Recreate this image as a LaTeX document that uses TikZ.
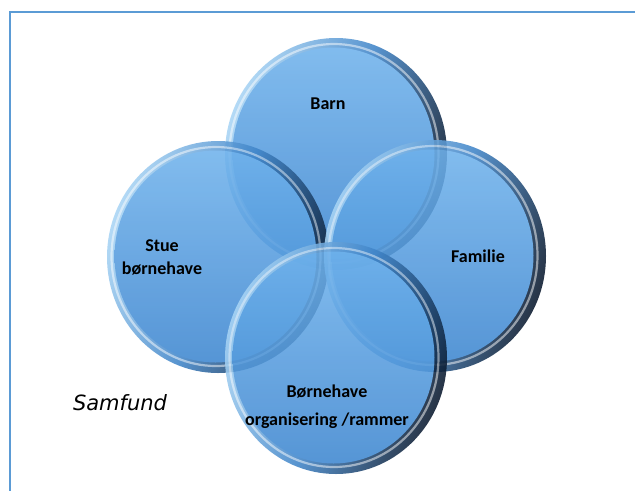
\documentclass[tikz,border=0pt]{standalone}
\usepackage{fontspec}
\setmainfont{Carlito}
\newfontfamily\samfont{DejaVu Sans}
\definecolor{frameblue}{HTML}{5B9BD5}
\definecolor{rimlight}{HTML}{A9D5F5}
\definecolor{rimmid}{HTML}{3F84C8}
\definecolor{rimdark}{HTML}{08162A}
\definecolor{bodytop}{HTML}{6FB2EC}
\definecolor{bodybot}{HTML}{3D86D0}
\tikzset{
  frame/.style={draw=frameblue, line width=2pt},
  rim/.style={top color=rimlight, bottom color=rimdark, middle color=rimmid, shading angle=70},
  body/.style={top color=bodytop, bottom color=bodybot},
  gloss/.style={draw=white, draw opacity=0.5, line width=2.2pt},
  lbl/.style={font=\fontsize{18}{23}\selectfont\bfseries, text=black, align=center, inner sep=0pt},
}
\newcommand\drawbubble[1]{%
  \begin{scope}[shift={(#1)}, transparency group, opacity=0.87]
    \shade[rim] (0,0) ellipse (111 and 116);
    \shade[body] (-2.5,0.5) ellipse (101 and 106);
    \draw[gloss] (-2,0.5) ellipse (104.5 and 109.5);
  \end{scope}}
\begin{document}
\begin{tikzpicture}[x=1pt,y=1pt]
  \useasboundingbox (0,0) rectangle (635,-491);
  \fill[white] (0,0) rectangle (635,-491);
  \coordinate (fa) at (635,-11.5);
  \coordinate (fb) at (10,-11.5);
  \coordinate (fc) at (10,-491);
  \draw[frame] (fa) -- (fb) -- (fc);

  \coordinate (cbarn) at (336,-154);
  \coordinate (cstue) at (218,-257);
  \coordinate (cfam) at (435,-256);
  \coordinate (cbh) at (336,-358);

  \drawbubble{cbarn}
  \drawbubble{cstue}
  \drawbubble{cfam}
  \drawbubble{cbh}

  \node[lbl] (barn) at (328,-104) {Barn};
  \node[lbl] (stue) at (162,-257) {Stue\\børnehave};
  \node[lbl, font=\fontsize{18}{28}\selectfont\bfseries] (bh) at (327,-407) {Børnehave\\organisering /rammer};
  \node[lbl] (fam) at (478,-256) {Familie};
  \node[inner sep=0pt, font=\samfont\itshape\fontsize{21}{24}\selectfont] (samfund) at (120,-403) {Samfund};
\end{tikzpicture}
\end{document}
